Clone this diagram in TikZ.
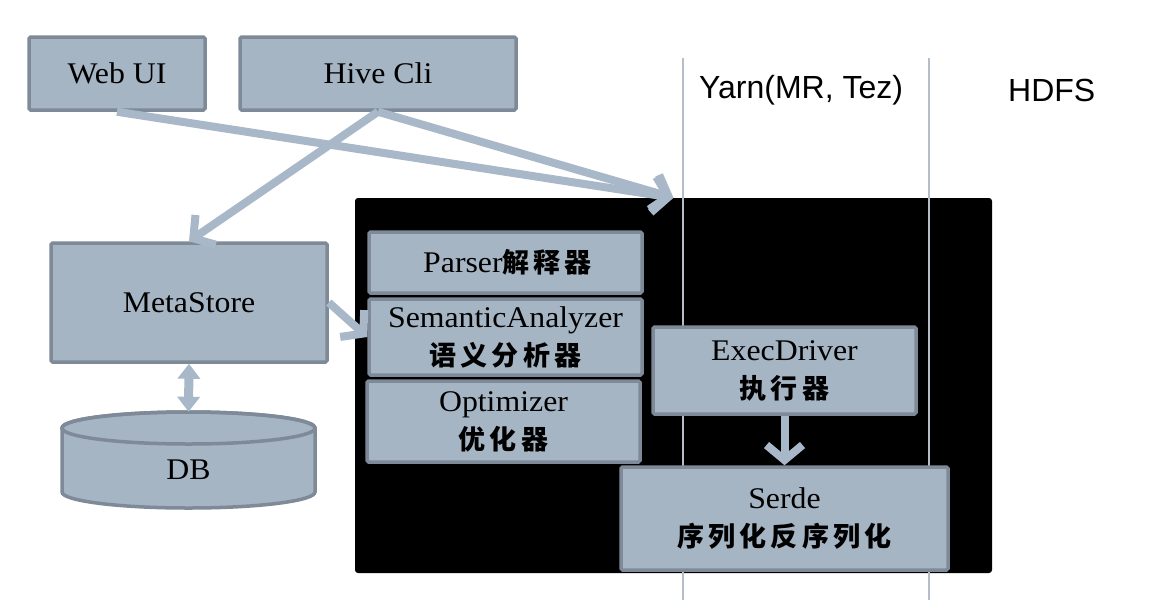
\documentclass[tikz,border=0pt]{standalone}
\usepackage{fontspec}
\setmainfont{Liberation Serif}[FakeStretch=1.06]
\newfontfamily\cjkf[LetterSpace=15]{Noto Sans CJK SC}
\newfontfamily\labsans{Liberation Sans}
\usetikzlibrary{arrows.meta}
\definecolor{boxfill}{HTML}{A6B5C4}
\definecolor{boxline}{HTML}{7E8A97}
\definecolor{arrowc}{HTML}{A8B8C8}
\definecolor{vline}{HTML}{B4BEC8}
\newcommand{\zh}[1]{{\cjkf\bfseries\fontsize{27}{38}\selectfont #1}}
\begin{document}
\begin{tikzpicture}[x=1pt,y=-1pt,
  box/.style={draw=boxline, fill=boxfill, line width=3.5pt, rounded corners=1.5pt,
    inner sep=0pt, align=center, font=\fontsize{30}{38}\selectfont},
  flow/.style={draw=arrowc, line width=8pt, -{Straight Barb[length=15pt,width=36pt]}},
  dbl/.style={draw=arrowc, line width=9pt,
    {Triangle[length=15pt,width=22pt]}-{Triangle[length=15pt,width=22pt]}},
  lane/.style={draw=vline, line width=1.5pt},
  lanelabel/.style={anchor=west, inner sep=0pt, font=\labsans\fontsize{32}{38}\selectfont}
]
\useasboundingbox (0,0) rectangle (1170,600);
\fill[white] (0,0) rectangle (1170,600);

% engine background
\node[fill=black, rounded corners=3pt, inner sep=0pt,
      minimum width=637pt, minimum height=375pt] (engine) at (673.5,385.5) {};

% lanes
\draw[lane] (683,58) -- (683,600);
\draw[lane] (929,58) -- (929,600);
\node[lanelabel] (yarn) at (699,90) {Yarn(MR, Tez)};
\node[lanelabel] (hdfs) at (1008,90) {HDFS};

% top boxes
\node[box, minimum width=176pt, minimum height=73pt] (webui) at (117,73.5) {Web UI};
\node[box, minimum width=276pt, minimum height=73pt] (hive) at (378,73.5) {Hive Cli};

% metastore
\node[box, minimum width=276pt, minimum height=119pt] (metastore) at (189,302.5) {MetaStore};

% DB cylinder
\path[draw=boxline, fill=boxfill, line width=3.5pt]
  (62,428) -- (62,492) arc[start angle=180, end angle=0, x radius=126.5, y radius=16]
  -- (315,428) arc[start angle=0, end angle=-180, x radius=126.5, y radius=16] -- cycle;
\draw[boxline, line width=3.5pt] (188.5,428) ellipse[x radius=126.5, y radius=16];
\node[inner sep=0pt, minimum width=253pt, minimum height=116pt,
      font=\fontsize{30}{38}\selectfont] (db) at (188.5,470) {DB};

% compiler boxes
\node[box, minimum width=273pt, minimum height=61pt] (parser) at (505.5,262.5)
  {Parser\zh{解释器}\hspace{-4pt}};
\node[box, minimum width=273pt, minimum height=76pt] (semantic) at (505.5,337)
  {SemanticAnalyzer\\\zh{语义分析器}\hspace{-4pt}};
\node[box, minimum width=273pt, minimum height=81pt] (optimizer) at (503.5,421.5)
  {Optimizer\\\zh{优化器}\hspace{-4pt}};
\node[box, minimum width=263pt, minimum height=87pt] (exec) at (784.5,370.5)
  {ExecDriver\\\zh{执行器}\hspace{-4pt}};
\node[box, minimum width=327pt, minimum height=103pt] (serde) at (784.5,518.5)
  {Serde\\\zh{序列化反序列化}\hspace{-4pt}};

% connectors
\draw[flow] (webui.south) -- (engine.north);
\draw[flow] (hive.south) -- (engine.north);
\draw[flow] (hive.south) -- (metastore.north);
\draw[flow] (metastore.east) -- (semantic.west);
\draw[dbl] (metastore.south) -- (db.north);
\draw[flow] (exec.south) -- (serde.north);
\end{tikzpicture}
\end{document}
